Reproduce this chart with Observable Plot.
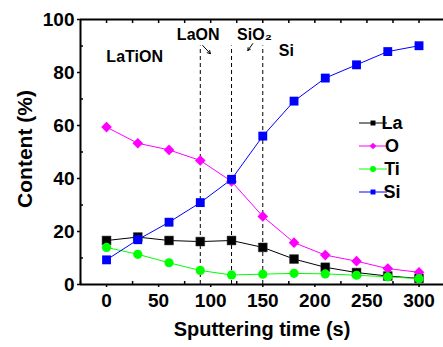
<!DOCTYPE html>
<html><head><meta charset="utf-8">
<script src="https://cdn.jsdelivr.net/npm/d3@7"></script>
<script src="https://cdn.jsdelivr.net/npm/@observablehq/plot@0.6"></script>
<style>
body{margin:0;background:#fff;}
svg{font-family:"Liberation Sans",Arial,sans-serif;font-weight:bold;}
</style></head><body><div id="chart"></div>
<script>
const time = [0, 30, 60, 90, 120, 150, 180, 210, 240, 270, 300];
const La = [16.6, 17.9, 16.6, 16.2, 16.6, 14.0, 9.6, 6.5, 4.5, 3.2, 2.3];
const O  = [59.4, 53.3, 50.8, 46.8, 38.9, 25.7, 15.8, 11.1, 8.8, 6.0, 4.6];
const Ti = [14.0, 11.4, 8.2, 5.3, 3.6, 3.9, 4.2, 4.0, 3.5, 2.9, 2.2];
const Si = [9.3, 16.9, 23.5, 30.9, 39.7, 56.0, 69.2, 77.9, 82.9, 87.9, 90.1];
const seriesNames = ["La", "O", "Ti", "Si"];
const seriesValues = [La, O, Ti, Si];
const colors = ["#000000", "#ff00ff", "#00ff00", "#0000ff"];
const symbols = ["square", "diamond2", "circle", "square"];
const markerR = [5.0, 4.8, 4.6, 5.0];
const legendR = [2.8, 3.0, 3.0, 2.8];
const xTicks = [0, 50, 100, 150, 200, 250, 300];
const yTicks = [0, 20, 40, 60, 80, 100];
const boundaries = [90, 120, 150];
const boundaryTop = 90;
const labels = [
  {text: "LaTiON", x: 27, y: 86},
  {text: "LaON", x: 88, y: 94.3},
  {text: "SiO₂", x: 142, y: 94.3},
  {text: "Si", x: 172.6, y: 88}
];
const arrows = [
  {x1: 92.3, y1: 90.2, x2: 99.7, y2: 87.1},
  {x1: 140.4, y1: 90.9, x2: 135.6, y2: 88.3}
];

const rows = [];
seriesNames.forEach((s, i) => time.forEach((t, j) => rows.push({series: s, idx: i, t, v: seriesValues[i][j]})));

const marks = [];
marks.push(Plot.ruleX(boundaries, {y1: 0, y2: boundaryTop, stroke: "#000", strokeWidth: 1, strokeDasharray: "4,3"}));
seriesNames.forEach((s, i) => {
  const d = rows.filter(r => r.series === s);
  marks.push(Plot.line(d, {x: "t", y: "v", stroke: colors[i], strokeWidth: 1}));
  marks.push(Plot.dot(d, {x: "t", y: "v", fill: colors[i], symbol: symbols[i], r: markerR[i], stroke: i === 0 ? "#333" : "none", strokeWidth: 0.5}));
});
marks.push(Plot.text(labels, {x: "x", y: "y", text: "text", fontSize: 16, fontWeight: "bold", fill: "#000"}));
marks.push(Plot.arrow(arrows, {x1: "x1", y1: "y1", x2: "x2", y2: "y2", stroke: "#000", strokeWidth: 1, headLength: 5}));
// axes
marks.push(Plot.ruleY([0, 100], {stroke: "#000", strokeWidth: 2}));
marks.push(Plot.ruleX([-25], {stroke: "#000", strokeWidth: 2}));
marks.push(Plot.axisY({ticks: yTicks, tickSize: 3, tickPadding: 3, fontSize: 19, fontWeight: "bold", label: null, strokeWidth: 1.5}));
marks.push(Plot.axisY({ticks: [10, 30, 50, 70, 90], tickSize: -3, text: null, label: null, strokeWidth: 1.5}));
marks.push(Plot.axisX({ticks: xTicks, tickSize: 3, tickPadding: 6, fontSize: 19, fontWeight: "bold", label: null, strokeWidth: 1.5}));
marks.push(Plot.axisX({ticks: [-25, 25, 75, 125, 175, 225, 275], tickSize: -3, text: null, label: null, strokeWidth: 1.5}));
marks.push(Plot.axisX({anchor: "top", ticks: d3.range(0, 301, 25), tickSize: -3, text: null, label: null, strokeWidth: 1.5}));

const svg = Plot.plot({
  width: 443, height: 347,
  marginLeft: 80, marginRight: 0, marginTop: 19, marginBottom: 63,
  x: {domain: [-25, 323.5]},
  y: {domain: [0, 100]},
  style: {fontFamily: "Liberation Sans, Arial, sans-serif", background: "#fff"},
  marks
});

const sel = d3.select(svg);
// axis titles
sel.append("text").attr("x", 262).attr("y", 336).attr("text-anchor", "middle")
  .attr("font-size", 20).attr("font-weight", "bold").text("Sputtering time (s)");
sel.append("text").attr("transform", "translate(32,149) rotate(-90)").attr("text-anchor", "middle")
  .attr("font-size", 21).attr("font-weight", "bold").text("Content (%)");
// legend
const lg = sel.append("g");
seriesNames.forEach((s, i) => {
  const y = 123 + i * 23;
  lg.append("line").attr("x1", 359).attr("x2", 387).attr("y1", y).attr("y2", y).attr("stroke", colors[i]).attr("stroke-width", 1);
  const sym = d3.symbol().type(symbols[i] === "square" ? d3.symbolSquare : symbols[i] === "circle" ? d3.symbolCircle : d3.symbolDiamond2).size(Math.PI * legendR[i] ** 2);
  lg.append("path").attr("d", sym()).attr("transform", `translate(373,${y})`).attr("fill", colors[i]);
  lg.append("text").attr("x", 392).attr("y", y).attr("dy", "0.35em").attr("font-size", 18).attr("font-weight", "bold").text(s);
});
document.getElementById("chart").appendChild(svg);
</script></body></html>
